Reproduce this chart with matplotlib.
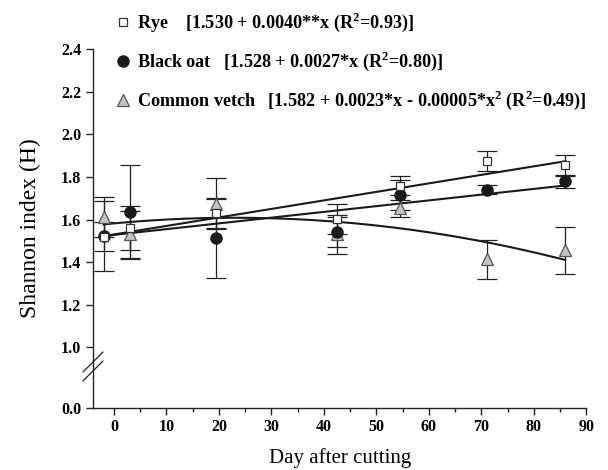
import numpy as np
import matplotlib.pyplot as plt
from matplotlib.lines import Line2D

# ---- data ----
days = [-2, 3, 19.5, 42.5, 54.5, 71, 86]

rye = [1.52, 1.562, 1.63, 1.603, 1.759, 1.873, 1.854]
rye_err = [0.07, 0.104, 0.07, 0.072, 0.045, 0.047, 0.05]

oat = [1.522, 1.634, 1.511, 1.542, 1.717, 1.741, 1.779]
oat_err = [0.165, 0.22, 0.185, 0.07, 0.07, 0.02, 0.03]

vetch = [1.612, 1.531, 1.675, 1.530, 1.652, 1.413, 1.456]
vetch_err = [0.095, 0.11, 0.12, 0.09, 0.04, 0.09, 0.11]

# regression coefficients from the legend
rye_fit = [1.530, 0.0040, 0.0]
oat_fit = [1.528, 0.0027, 0.0]
vetch_fit = [1.582, 0.0023, -0.00005]

labels = [
    r"Rye    [1.530 + 0.0040**x (R$^\mathbf{2}$=0.93)]",
    r"Black oat   [1.528 + 0.0027*x (R$^\mathbf{2}$=0.80)]",
    r"Common vetch   [1.582 + 0.0023*x - 0.00005*x$^\mathbf{2}$ (R$^\mathbf{2}$=0.49)]",
]
yticks = [0.0, 1.0, 1.2, 1.4, 1.6, 1.8, 2.0, 2.2, 2.4]

plt.rcParams['font.family'] = ['Liberation Serif', 'DejaVu Serif']
plt.rcParams['mathtext.fontset'] = 'custom'
plt.rcParams['mathtext.rm'] = 'Liberation Serif:bold'
plt.rcParams['mathtext.bf'] = 'Liberation Serif:bold'

# broken y axis: squeeze 0..1 into a short band
K = 0.284


def fwd(v):
    v = np.asarray(v, dtype=float)
    return np.where(v >= 1, v, 1 - (1 - v) * K)


def inv(u):
    u = np.asarray(u, dtype=float)
    return np.where(u >= 1, u, 1 - (1 - u) / K)


fig = plt.figure(figsize=(6.08, 4.70), dpi=100)
ax = fig.add_axes([0.153, 0.1326, 0.8113, 0.7625])
ax.set_yscale('function', functions=(fwd, inv))

xs = np.linspace(days[0], days[-1], 200)
for c in (rye_fit, oat_fit, vetch_fit):
    ax.plot(xs, c[0] + c[1] * xs + c[2] * xs ** 2, color='#1a1a1a', lw=1.5, zorder=2)

eb = dict(fmt='none', ecolor='#222222', elinewidth=0.9, capsize=7, capthick=0.9, zorder=3)
ax.errorbar(days, vetch, yerr=vetch_err, **eb)
ax.errorbar(days, oat, yerr=oat_err, **eb)
ax.errorbar(days, rye, yerr=rye_err, **eb)

ax.plot(days, vetch, '^', ms=8, mfc='#c4c4c4', mec='#555555', mew=0.9, ls='none', zorder=4)
ax.plot(days, oat, 'o', ms=8, mfc='#1a1a1a', mec='#1a1a1a', ls='none', zorder=5)
ax.plot(days, rye, 's', ms=6, mfc='white', mec='#333333', mew=0.9, ls='none', zorder=6)

ax.set_xlim(-4, 90)
ax.set_ylim(0, 2.4)
ax.set_xticks(range(0, 91, 10))
ax.set_xticks(range(5, 90, 10), minor=True)
ax.set_yticks(yticks)
ax.set_yticklabels([f"{t:.1f}" for t in yticks])
ax.yaxis.set_minor_locator(plt.NullLocator())

for s in ('top', 'right'):
    ax.spines[s].set_visible(False)
for s in ('left', 'bottom'):
    ax.spines[s].set_linewidth(1.0)
    ax.spines[s].set_color('#222222')

ax.tick_params(axis='both', which='major', length=5, width=1.0, color='#222222',
               labelsize=11.5, direction='out')
ax.tick_params(axis='x', which='minor', length=3, width=1.0, color='#222222')
for lab in ax.get_xticklabels() + ax.get_yticklabels():
    lab.set_fontweight('bold')

ax.set_xlabel('Day after cutting', fontsize=15, labelpad=9)
ax.set_ylabel('Shannon index (H)', fontsize=17, labelpad=14)

# axis break marks
for dy in (0.0, 0.025):
    ax.plot([-0.02, 0.02], [0.075 + dy, 0.13 + dy], transform=ax.transAxes,
            color='#222222', lw=0.9, clip_on=False)

handles = [
    Line2D([], [], marker='s', ls='none', ms=6, mfc='white', mec='#333333', mew=0.9),
    Line2D([], [], marker='o', ls='none', ms=8, mfc='#1a1a1a', mec='#1a1a1a'),
    Line2D([], [], marker='^', ls='none', ms=8, mfc='#c4c4c4', mec='#555555', mew=0.9),
]
fig.legend(handles, labels, loc='upper left', bbox_to_anchor=(0.16, 1.012),
           frameon=False, prop={'weight': 'bold', 'size': 13.1},
           handlelength=1.0, handletextpad=0.3, labelspacing=0.87)

fig.savefig('out.png', dpi=100)
